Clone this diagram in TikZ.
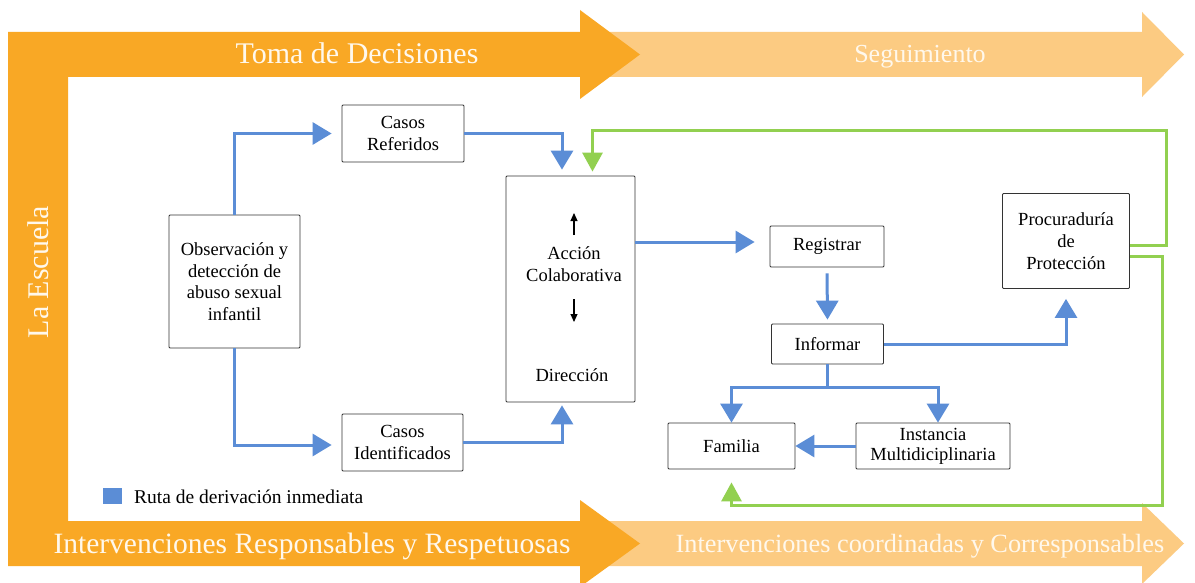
\documentclass[tikz,border=0pt]{standalone}
\usepackage{fontspec}
\setmainfont{Liberation Serif}
\usetikzlibrary{arrows.meta}
\definecolor{orng}{HTML}{F9A825}
\definecolor{lorng}{HTML}{FCCB82}
\definecolor{bl}{HTML}{5B8DD6}
\definecolor{gr}{HTML}{92D050}
\definecolor{bandtxt}{HTML}{FFF8EC}
\begin{document}
\begin{tikzpicture}[x=1pt,y=-1pt,
  box/.style={draw=black!80, line width=0.8pt, rounded corners=1pt, fill=white, inner sep=0pt, align=center, font=\fontsize{18.5}{21.5}\selectfont},
  plain/.style={inner sep=0pt, align=center, font=\fontsize{18.5}{21.5}\selectfont},
  bflow/.style={draw=bl, line width=3pt, -{Triangle[width=22pt,length=19pt]}},
  gflow/.style={draw=gr, line width=3pt, -{Triangle[width=20pt,length=19pt]}},
  band/.style={text=bandtxt, inner sep=0pt, anchor=base},
  small/.style={line width=1.1pt, -{Triangle[width=7pt,length=8pt]}}]
\useasboundingbox (0,0) rectangle (1195,583);
\fill[white] (0,0) rectangle (1195,583);
% light arrows
\fill[lorng] (600,32) -- (1142,32) -- (1142,12) -- (1184,54.5) -- (1142,97) -- (1142,77) -- (600,77) -- cycle;
\fill[lorng] (600,521) -- (1142,521) -- (1142,503) -- (1184,543.5) -- (1142,584) -- (1142,566) -- (600,566) -- cycle;
% orange frame
\fill[orng] (8,32) -- (580,32) -- (580,10) -- (640,54.5) -- (580,99) -- (580,77) -- (68,77) -- (68,521) -- (580,521) -- (580,500) -- (640,543.5) -- (580,587) -- (580,566) -- (8,566) -- cycle;
% band texts
\node[band, font=\fontsize{30}{34}\selectfont] (t1) at (357,64) {Toma de Decisiones};
\node[band, font=\fontsize{26}{30}\selectfont] (t2) at (920,63) {Seguimiento};
\node[band, font=\fontsize{29.5}{34}\selectfont] (t3) at (312,553) {Intervenciones Responsables y Respetuosas};
\node[band, font=\fontsize{26.3}{30}\selectfont] (t4) at (920,552) {Intervenciones coordinadas y Corresponsables};
\node[text=bandtxt, inner sep=0pt, font=\fontsize{30}{34}\selectfont, rotate=90] (t5) at (38,272) {La Escuela};
% nodes
\node[box, minimum width=122pt, minimum height=57pt] (ref) at (403,133.5) {Casos\\Referidos};
\node[box, minimum width=131pt, minimum height=133pt] (obs) at (234.5,281.5) {Observación y\\detección de\\abuso sexual\\infantil};
\node[box, minimum width=121pt, minimum height=57pt] (ide) at (402.5,442.5) {Casos\\Identificados};
\node[box, minimum width=129pt, minimum height=226pt] (acc) at (570.5,289) {};
\node[plain] (acct) at (574,264) {Acción\\Colaborativa};
\node[plain] (dir) at (572,375) {Dirección};
\coordinate (up1) at (574,235);
\coordinate (up2) at (574,213);
\coordinate (dn1) at (574,299);
\coordinate (dn2) at (574,322);
\draw[small] (up1) -- (up2);
\draw[small] (dn1) -- (dn2);
\node[box, minimum width=114pt, minimum height=41pt] (reg) at (827,246.5) {Registrar};
\node[box, minimum width=112pt, minimum height=40pt] (inf) at (827.5,344) {Informar};
\node[box, minimum width=127pt, minimum height=46pt] (fam) at (731.5,446) {Familia};
\node[box, minimum width=154pt, minimum height=46pt, font=\fontsize{18.5}{20}\selectfont] (ins) at (933,446) {Instancia\\Multidiciplinaria};
\node[box, minimum width=127pt, minimum height=95pt, font=\fontsize{18.5}{22}\selectfont] (pro) at (1066,241) {Procuraduría\\de\\Protección};
% blue connectors
\draw[bflow, shorten >=10pt] (obs.north) |- (ref.west);
\draw[bflow, shorten >=10pt] (obs.south) |- ([yshift=-2.5pt]ide.west);
\draw[bflow, shorten >=6pt] (ref.east) -| ([xshift=-8.5pt]acc.north);
\draw[bflow, shorten >=3pt] (ide.east) -| ([xshift=-8.5pt]acc.south);
\draw[bflow, shorten >=15pt] ([yshift=47pt]acc.east) -- ([yshift=4.5pt]reg.west);
\draw[bflow, shorten <=6pt, shorten >=4pt] (reg.south) -- (inf.north);
\draw[bflow, shorten >=10pt] (inf.east) -| (pro.south);
\coordinate (sp) at ([yshift=-23pt]inf.south);
\draw[bflow] (inf.south) -- (sp) -| (fam.north);
\draw[bflow] (sp) -| ([xshift=5pt]ins.north);
\draw[bflow] (ins.west) -- (fam.east);
% green connectors
\coordinate (gtr) at (1166,131);
\coordinate (gbr) at (1162,505);
\draw[gflow, shorten >=4pt] ([yshift=-4pt]pro.east) -| (gtr) -| ([xshift=22pt]acc.north);
\draw[gflow, shorten >=13pt] ([yshift=-15pt]pro.east) -| (gbr) -| (fam.south);
% legend
\node[fill=bl, minimum width=19pt, minimum height=16pt, inner sep=0pt] (lsq) at (112.5,496) {};
\node[anchor=base west, inner sep=0pt, font=\fontsize{19.5}{22}\selectfont] (ltxt) at (134,503) {Ruta de derivación inmediata};
\end{tikzpicture}
\end{document}
